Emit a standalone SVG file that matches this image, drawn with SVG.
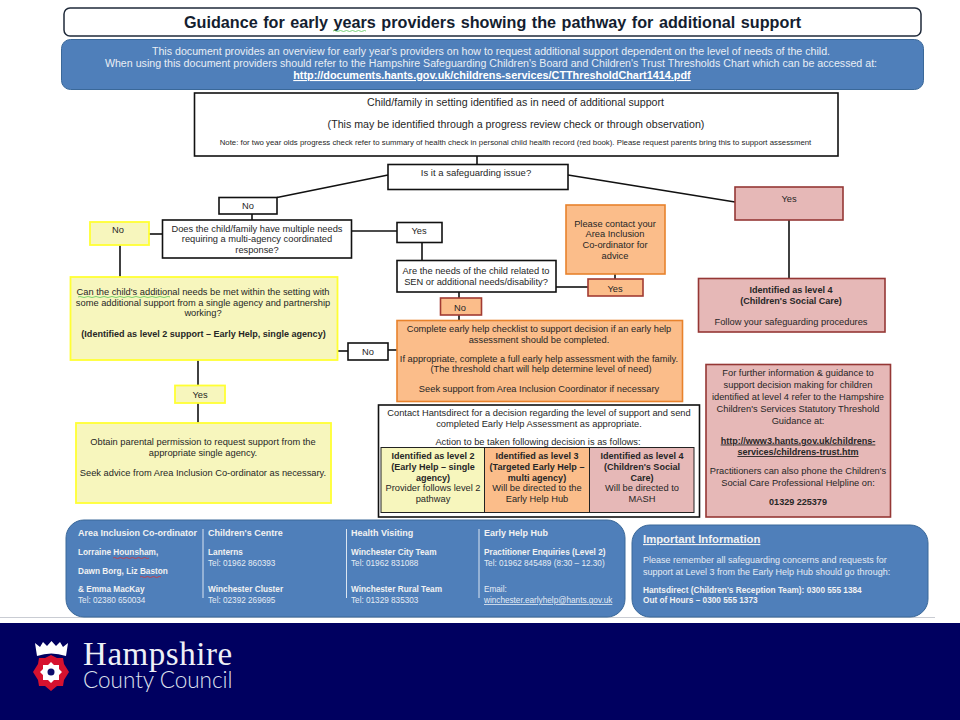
<svg xmlns="http://www.w3.org/2000/svg" width="960" height="720" viewBox="0 0 960 720">
<style>
text{font-family:"Liberation Sans",Arial,sans-serif;font-size:9.300px;fill:#262626;text-anchor:middle}
.b{font-weight:bold;font-size:9.050px}
.w{fill:#e9eef5;font-size:10.650px}
.l{text-anchor:start;fill:#e6ecf4;font-size:8.200px}
.lb{font-weight:bold;fill:#f2f2f2;text-anchor:start;font-size:8.250px}
.h{font-weight:bold;fill:#f2f2f2;text-anchor:start;font-size:9px}
.u{text-decoration:underline}
.box{fill:#fff;stroke:#111;stroke-width:1.6}
.yel{fill:#f7f6bd;stroke:#ffff33;stroke-width:1.8}
.org{fill:#fbbd8a;stroke:#e8822c;stroke-width:1.6}
.orr{fill:#fbbd8a;stroke:#a23b32;stroke-width:1.6}
.pnk{fill:#e6b8b7;stroke:#953735;stroke-width:1.6}
.blu{fill:#4f7fba;stroke:#3a6899;stroke-width:1}
.cn line{stroke:#111;stroke-width:1.6}
.sq{fill:none;stroke-width:.8}
</style>
<rect width="960" height="720" fill="#fff"/>
<line x1="0" y1="617.500" x2="935" y2="617.500" stroke="#c9ccd3" stroke-width="1"/>
<rect x="0" y="623" width="960" height="97" fill="#000060"/>

<g id="connectors" class="cn">
<line x1="477" y1="156" x2="477" y2="164"/>
<line x1="388" y1="175" x2="277" y2="197.500"/>
<line x1="252" y1="214" x2="252" y2="220"/>
<line x1="162" y1="234" x2="149" y2="234"/>
<line x1="351" y1="231" x2="397" y2="231"/>
<line x1="422" y1="242" x2="422" y2="260"/>
<line x1="120" y1="245" x2="120" y2="277"/>
<line x1="568" y1="175" x2="735" y2="202"/>
<line x1="789" y1="220" x2="789" y2="278"/>
<line x1="556" y1="287" x2="588" y2="287"/>
<line x1="615" y1="274" x2="615" y2="279"/>
<line x1="459" y1="292" x2="459" y2="298"/>
<line x1="459" y1="315" x2="459" y2="320"/>
<line x1="338" y1="351" x2="348" y2="351"/>
<line x1="388" y1="350" x2="397" y2="350"/>
<line x1="198" y1="360" x2="198" y2="385"/>
<line x1="198" y1="403" x2="198" y2="423"/>
</g>

<g id="title"><rect x="64" y="8" width="857" height="28" rx="6" fill="#fff" stroke="#1f2a3a" stroke-width="1.500"/>
<text x="492.500" y="28" style="font-weight:bold;font-size:16.200px;fill:#141e30;word-spacing:1px">Guidance for early years providers showing the pathway for additional support</text>
<path class="sq" stroke="#5cc85c" d="M333 31q1.500 -1 3 0t3 0t3 0t3 0t3 0t3 0t3 0t3 0t3 0t3 0t3 0"/></g>

<g id="intro"><rect x="61.500" y="39.500" width="862" height="50" rx="9" class="blu"/>
<text x="491" y="55" class="w">This document provides an overview for early year's providers on how to request additional support dependent on the level of needs of the child.</text>
<text x="491" y="67" class="w">When using this document providers should refer to the Hampshire Safeguarding Children's Board and Children's Trust Thresholds Chart which can be accessed at:</text>
<text x="492" y="79" class="u" style="font-weight:bold;font-size:10.850px;fill:#fff">http://documents.hants.gov.uk/childrens-services/CTThresholdChart1414.pdf</text></g>

<g id="identified"><rect x="194.500" y="93" width="643.500" height="63" class="box"/>
<text x="515.500" y="106" style="font-size:10.650px">Child/family in setting identified as in need of additional support</text>
<text x="516" y="128" style="font-size:10.650px">(This may be identified through a progress review check or through observation)</text>
<text x="515.500" y="145" style="font-size:7.800px">Note: for two year olds progress check refer to summary of health check in personal child health record (red book). Please request parents bring this to support assessment</text></g>

<g id="safeguarding"><rect x="388" y="164.500" width="180" height="25" class="box"/><text x="476" y="176" style="font-size:9.500px">Is it a safeguarding issue?</text></g>
<g id="no1"><rect x="219" y="197.500" width="58" height="16.500" class="box"/><text x="248" y="209">No</text></g>
<g id="multi"><rect x="162.500" y="220" width="189" height="38" class="box"/>
<text x="257" y="231.500">Does the child/family have multiple needs</text><text x="257" y="242">requiring a multi-agency coordinated</text><text x="257" y="252.500">response?</text></g>
<g id="no2"><rect x="90" y="222" width="59" height="23" class="yel"/><text x="118" y="233">No</text></g>
<g id="yes1"><rect x="397" y="222.500" width="45" height="20" class="box"/><text x="419" y="234">Yes</text></g>
<g id="yes4"><rect x="735" y="187" width="108" height="33" class="pnk"/><text x="789" y="202">Yes</text></g>
<g id="contact"><rect x="566" y="205" width="99" height="69" class="org"/>
<text x="615" y="226.500">Please contact your</text><text x="615" y="237">Area Inclusion</text><text x="615" y="248">Co-ordinator for</text><text x="615" y="259">advice</text></g>
<g id="sen"><rect x="397" y="260.500" width="159" height="31.500" class="box"/>
<text x="476" y="274">Are the needs of the child related to</text><text x="476" y="285">SEN or additional needs/disability?</text></g>
<g id="yes3"><rect x="588" y="279" width="55" height="17" class="orr"/><text x="615" y="291.500">Yes</text></g>
<g id="no3"><rect x="440.500" y="298" width="41" height="17" class="orr"/><text x="460" y="310.500">No</text></g>
<g id="checklist"><rect x="397" y="320.500" width="285.500" height="81" class="org"/>
<text x="539" y="332">Complete early help checklist to support decision if an early help</text>
<text x="539" y="342.500">assessment should be completed.</text>
<text x="539" y="362">If appropriate, complete a full early help assessment with the family.</text>
<text x="541" y="372">(The threshold chart will help determine level of need)</text>
<text x="539" y="391.500">Seek support from Area Inclusion Coordinator if necessary</text></g>
<g id="level2q"><rect x="70.500" y="277" width="267" height="83" class="yel"/>
<text x="203" y="295">Can the child's additional needs be met within the setting with</text>
<text x="203" y="305.500">some additional support from a single agency and partnership</text>
<text x="203" y="316">working?</text>
<text x="203.500" y="337" class="b">(Identified as level 2 support – Early Help, single agency)</text>
<path class="sq" stroke="#5cc85c" d="M78 297q2 -1 4 0t4 0t4 0t4 0t4 0t4 0t4 0t4 0t4 0t4 0t4 0t4 0t4 0t4 0t4 0t4 0t4 0t4 0t4 0t4 0t4 0t4 0t4 0"/></g>
<g id="no4"><rect x="348" y="343" width="40" height="17" class="box"/><text x="368" y="354.500">No</text></g>
<g id="yes2"><rect x="175" y="385.500" width="50" height="17.500" class="yel"/><text x="200" y="397.500">Yes</text></g>
<g id="parental"><rect x="76" y="423" width="255" height="80" class="yel"/>
<text x="203" y="445">Obtain parental permission to request support from the</text>
<text x="203" y="456">appropriate single agency.</text>
<text x="203" y="476">Seek advice from Area Inclusion Co-ordinator as necessary.</text></g>

<g id="hantsdirect"><rect x="378.500" y="405" width="321" height="112" class="box"/>
<text x="539" y="416">Contact Hantsdirect for a decision regarding the level of support and send</text>
<text x="539" y="427">completed Early Help Assessment as appropriate.</text>
<text x="538" y="445">Action to be taken following decision is as follows:</text>
<rect x="381" y="447.500" width="103.500" height="65" fill="#f7f6bd" stroke="#222" stroke-width="1"/>
<rect x="484.500" y="447.500" width="105" height="65" fill="#fbbd8a" stroke="#222" stroke-width="1"/>
<rect x="589.500" y="447.500" width="104.500" height="65" fill="#e6b8b7" stroke="#222" stroke-width="1"/>
<text x="433" y="459" class="b">Identified as level 2</text><text x="433" y="470" class="b">(Early Help – single</text><text x="433" y="480.500" class="b">agency)</text><text x="433" y="491">Provider follows level 2</text><text x="433" y="501.500">pathway</text>
<text x="537" y="459" class="b">Identified as level 3</text><text x="537" y="470" class="b">(Targeted Early Help –</text><text x="537" y="480.500" class="b">multi agency)</text><text x="537" y="491">Will be directed to the</text><text x="537" y="501.500">Early Help Hub</text>
<text x="642" y="459" class="b">Identified as level 4</text><text x="642" y="470" class="b">(Children's Social</text><text x="642" y="480.500" class="b">Care)</text><text x="642" y="491">Will be directed to</text><text x="642" y="501.500">MASH</text></g>

<g id="level4"><rect x="698.500" y="278.500" width="186.500" height="53.500" class="pnk"/>
<text x="791" y="293" class="b">Identified as level 4</text><text x="791" y="303.500" class="b">(Children's Social Care)</text><text x="791" y="325">Follow your safeguarding procedures</text></g>

<g id="furtherinfo"><rect x="706" y="364.500" width="184.500" height="152.500" class="pnk"/>
<text x="798" y="376">For further information &amp; guidance to</text>
<text x="798" y="388">support decision making for children</text>
<text x="798" y="400">identified at level 4 refer to the Hampshire</text>
<text x="798" y="412">Children's Services Statutory Threshold</text>
<text x="798" y="424">Guidance at:</text>
<text x="798" y="443.500" class="b u">http://www3.hants.gov.uk/childrens-</text>
<text x="798" y="455" class="b u">services/childrens-trust.htm</text>
<text x="798" y="474">Practitioners can also phone the Children's</text>
<text x="798" y="486">Social Care Professional Helpline on:</text>
<text x="798" y="505" class="b">01329 225379</text></g>

<g id="contacts"><rect x="66" y="520" width="559" height="97" rx="18" class="blu"/>
<line x1="203" y1="529" x2="203" y2="598" stroke="#dbe5f1"/><line x1="346.500" y1="529" x2="346.500" y2="598" stroke="#dbe5f1"/><line x1="479" y1="529" x2="479" y2="598" stroke="#dbe5f1"/>
<text x="78" y="536" class="h">Area Inclusion Co-ordinator</text>
<text x="78" y="555" class="lb">Lorraine Hounsham,</text>
<text x="78" y="574" class="lb">Dawn Borg, Liz Baston</text>
<text x="78" y="592" class="lb">&amp; Emma MacKay</text>
<text x="78" y="603" class="l">Tel: 02380 650034</text>
<path class="sq" stroke="#d33" d="M113 558q1.500 -1 3 0t3 0t3 0t3 0t3 0t3 0t3 0t3 0t3 0t3 0t3 0t3 0M140 577q1.500 -1 3 0t3 0t3 0t3 0t3 0t3 0t3 0"/>
<text x="208" y="536" class="h">Children's Centre</text>
<text x="208" y="555" class="lb">Lanterns</text>
<text x="208" y="566" class="l">Tel: 01962 860393</text>
<text x="208" y="592" class="lb">Winchester Cluster</text>
<text x="208" y="603" class="l">Tel: 02392 269695</text>
<text x="351" y="536" class="h">Health Visiting</text>
<text x="351" y="555" class="lb">Winchester City Team</text>
<text x="351" y="566" class="l">Tel: 01962 831088</text>
<text x="351" y="592" class="lb">Winchester Rural Team</text>
<text x="351" y="603" class="l">Tel: 01329 835303</text>
<text x="484" y="536" class="h">Early Help Hub</text>
<text x="484" y="555" class="lb">Practitioner Enquiries (Level 2)</text>
<text x="484" y="566" class="l">Tel: 01962 845489 (8:30 – 12.30)</text>
<text x="484" y="592" class="l">Email:</text>
<text x="484" y="603" class="l u">winchester.earlyhelp@hants.gov.uk</text></g>

<g id="important"><rect x="632" y="525" width="296" height="92" rx="18" class="blu"/>
<text x="643" y="543" class="h u" style="font-size:11.300px">Important Information</text>
<text x="643" y="563" class="l" style="font-size:9px">Please remember all safeguarding concerns and requests for</text>
<text x="643" y="575" class="l" style="font-size:9px">support at Level 3 from the Early Help Hub should go through:</text>
<text x="643" y="593" class="lb">Hantsdirect (Children's Reception Team): 0300 555 1384</text>
<text x="643" y="603" class="lb">Out of Hours – 0300 555 1373</text></g>

<g id="logo">
<path d="M37 656q14 -5 29 0l2 -13 -5 4 -3 -5 -4 4 -4.500 -5 -4.500 5 -4 -4 -3 5 -5 -4z" fill="#fff"/>
<path d="M51 655l6 3 6 0 1 6 5 8 -5 8 -1 6 -6 0 -6 5 -6 -5 -6 0 -1 -6 -5 -8 5 -8 1 -6 6 0z" fill="#d6122f"/>
<path d="M51 662l3 3 5 0 0 4 3 3 -3 3 0 5 -5 0 -3 3 -3 -3 -5 0 0 -5 -3 -3 3 -3 0 -4 5 0z" fill="#fff"/>
<circle cx="51" cy="672" r="3.500" fill="#0c0c6a"/>
<text x="83" y="665" style="font-family:'Liberation Serif',serif;font-size:33px;fill:#eef0f6;text-anchor:start;letter-spacing:.55px">Hampshire</text>
<text x="83" y="688" style="font-family:'Lato','Liberation Sans',sans-serif;font-weight:300;font-size:22.500px;fill:#dfe2ee;text-anchor:start">County Council</text>
</g>
</svg>
